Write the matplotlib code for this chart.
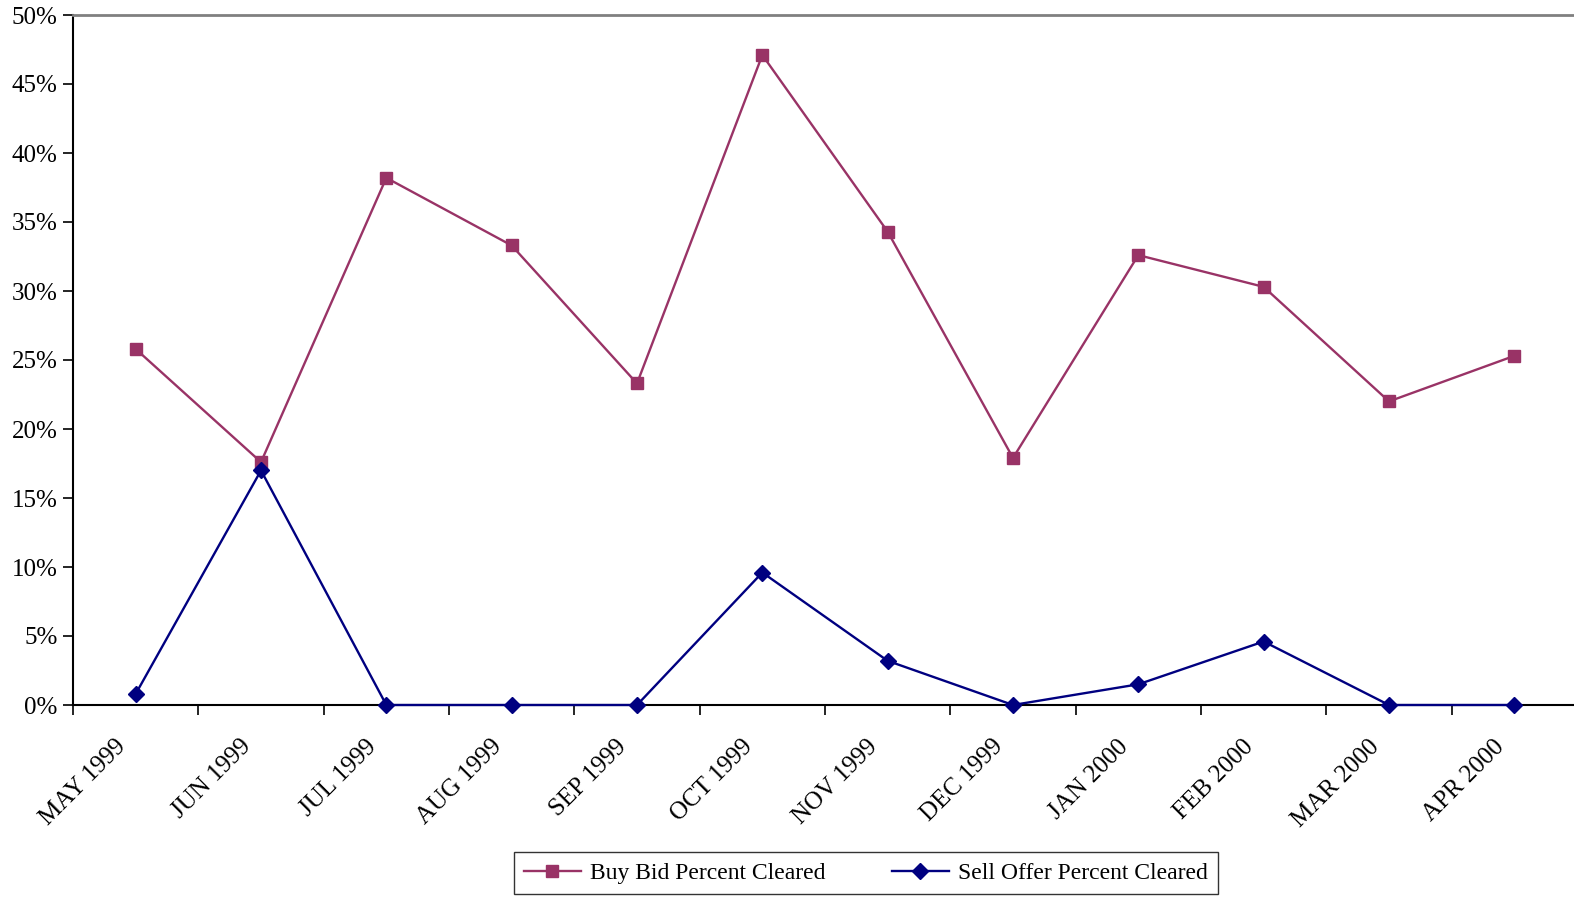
import matplotlib
matplotlib.use("Agg")
import matplotlib.pyplot as plt
import numpy as np
from matplotlib.ticker import PercentFormatter, FixedLocator, NullFormatter

plt.rcParams['font.family'] = ['Liberation Serif', 'DejaVu Serif']

months = ['MAY 1999', 'JUN 1999', 'JUL 1999', 'AUG 1999', 'SEP 1999', 'OCT 1999',
          'NOV 1999', 'DEC 1999', 'JAN 2000', 'FEB 2000', 'MAR 2000', 'APR 2000']
buy_bid = [25.8, 17.6, 38.2, 33.3, 23.3, 47.1, 34.3, 17.9, 32.6, 30.3, 22.0, 25.3]
sell_offer = [0.8, 17.0, 0.0, 0.0, 0.0, 9.6, 3.2, 0.0, 1.5, 4.6, 0.0, 0.0]

fig = plt.figure(figsize=(15.74, 8.97), dpi=100)
ax = fig.add_axes([73 / 1574, 192 / 897, 1504 / 1574, 690 / 897])

x = np.arange(len(months))
ax.plot(x, buy_bid, color='#993366', marker='s', markersize=9, linewidth=1.7,
        label='Buy Bid Percent Cleared', clip_on=False, zorder=3)
ax.plot(x, sell_offer, color='#000080', marker='D', markersize=8.5, linewidth=1.7,
        label='Sell Offer Percent Cleared', clip_on=False, zorder=3)

ax.set_xlim(-0.5, len(months) - 0.5)
ax.set_ylim(0, 50)
ax.set_yticks(np.arange(0, 51, 5))
ax.yaxis.set_major_formatter(PercentFormatter(decimals=0))

# boundary ticks between months; rotated labels end just left of each month centre
ax.xaxis.set_major_locator(FixedLocator(np.arange(-0.5, len(months), 1)))
ax.xaxis.set_major_formatter(NullFormatter())
ax.set_xticks(x - 0.17, minor=True)
ax.set_xticklabels(months, minor=True, rotation=45, ha='right', va='top',
                   rotation_mode='anchor', fontsize=18)
ax.tick_params(axis='x', which='minor', length=0, pad=22)
ax.tick_params(axis='x', which='major', length=7, width=1.2, direction='out')
ax.tick_params(axis='y', length=7, width=1.2, labelsize=18, pad=4)

ax.spines['right'].set_visible(False)
ax.spines['top'].set_color('#808080')
ax.spines['top'].set_linewidth(2)
ax.spines['left'].set_linewidth(1.5)
ax.spines['bottom'].set_linewidth(1.5)

leg = fig.legend(loc='center', bbox_to_anchor=(866 / 1574, 1 - 873 / 897), ncol=2,
                 fontsize=17, frameon=True, fancybox=False, handlelength=2.4,
                 handletextpad=0.4, columnspacing=2.8, borderpad=0.45)
leg.get_frame().set_edgecolor('black')
leg.get_frame().set_linewidth(1)

fig.savefig('out.png', dpi=100)
